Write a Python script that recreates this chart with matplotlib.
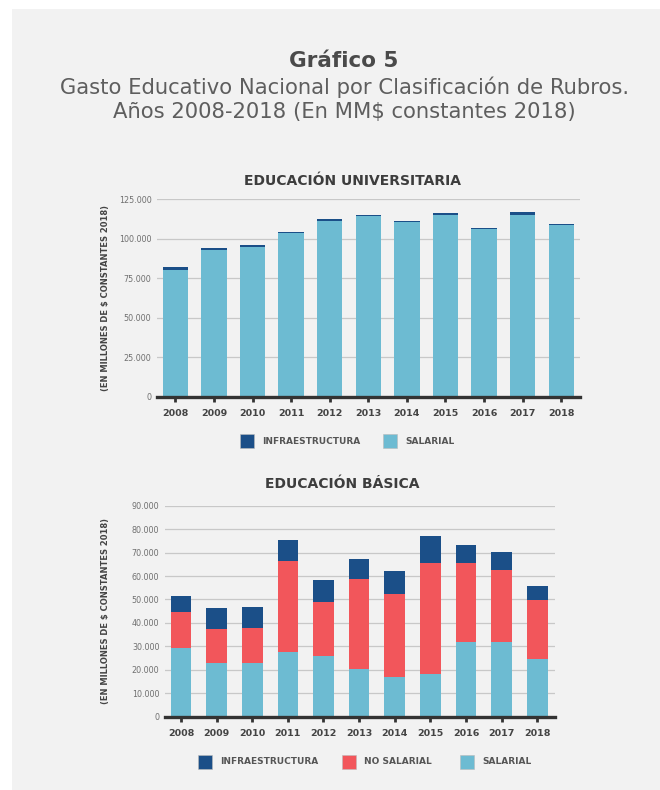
import matplotlib
matplotlib.use("Agg")
import matplotlib.pyplot as plt
from matplotlib.ticker import FuncFormatter
from matplotlib.patches import Rectangle
import numpy as np

# ---------------- data ----------------
years = ["2008", "2009", "2010", "2011", "2012", "2013", "2014", "2015", "2016", "2017", "2018"]

uni_salarial = [80300, 93100, 94600, 103500, 111500, 114300, 110500, 115300, 105900, 115100, 108600]
uni_infra = [1700, 1300, 1500, 800, 1300, 800, 600, 900, 800, 2100, 600]

bas_salarial = [29300, 22700, 22700, 27400, 25700, 20300, 16800, 18300, 31800, 31700, 24500]
bas_nosalarial = [15400, 14500, 15000, 38900, 23100, 38400, 35700, 47100, 33900, 30700, 25400]
bas_infra = [6850, 9100, 8950, 8930, 9520, 8670, 9530, 11660, 7670, 7680, 5700]

uni_yticks = [0, 25000, 50000, 75000, 100000, 125000]
bas_yticks = [0, 10000, 20000, 30000, 40000, 50000, 60000, 70000, 80000, 90000]

# ---------------- style ----------------
C_SAL = "#6dbbd2"
C_NOSAL = "#f2565b"
C_INFRA = "#1b4f88"
BG = "#f2f2f2"
DARK = "#444444"
W, H = 660, 790

fig = plt.figure(figsize=(W / 100, H / 100), dpi=100)
fig.patch.set_facecolor("white")


def fx(x):
    return x / W


def fy(y):
    return 1 - y / H


# gray panel
fig.patches.append(Rectangle((fx(12), 0), 1 - fx(12), fy(9), transform=fig.transFigure,
                             facecolor=BG, edgecolor="none", zorder=-10))

# header
fig.text(fx(344), fy(61), "Gráfico 5", ha="center", va="center", fontsize=15.5,
         fontweight="bold", color="#4a4a4a", family="DejaVu Sans")
fig.text(fx(344), fy(87), "Gasto Educativo Nacional por Clasificación de Rubros.",
         ha="center", va="center", fontsize=15.2, color="#5e5e5e", family="DejaVu Sans")
fig.text(fx(344), fy(112), "Años 2008-2018 (En MM$ constantes 2018)",
         ha="center", va="center", fontsize=15.2, color="#5e5e5e", family="DejaVu Sans")

fmt = FuncFormatter(lambda v, p: f"{v:,.0f}".replace(",", "."))


def style_axes(ax, yticks, ymax):
    ax.set_facecolor(BG)
    ax.set_ylim(0, ymax)
    ax.set_yticks(yticks)
    ax.yaxis.set_major_formatter(fmt)
    ax.grid(axis="y", color="#c8c8c8", linewidth=0.9, zorder=0)
    ax.set_axisbelow(True)
    for s in ["top", "right", "left"]:
        ax.spines[s].set_visible(False)
    ax.spines["bottom"].set_color("#333333")
    ax.spines["bottom"].set_linewidth(2.4)
    ax.tick_params(axis="y", length=0, labelsize=5.8, labelcolor="#707070", pad=4)
    ax.tick_params(axis="x", direction="inout", length=7, width=2, color="#333333",
                   labelsize=6.8, labelcolor=DARK, pad=5)
    ax.set_ylabel("(EN MILLONES DE $ CONSTANTES 2018)", fontsize=6, fontweight="bold",
                  color=DARK)


x = np.arange(len(years))

# ---------------- top chart ----------------
ax1 = fig.add_axes([fx(157), 1 - 396.7 / H, fx(580) - fx(157), (396.7 - 199.3) / H])
ax1.bar(x, uni_salarial, width=0.66, color=C_SAL, zorder=2)
ax1.bar(x, uni_infra, width=0.66, bottom=uni_salarial, color=C_INFRA, zorder=2)
ax1.set_xlim(-0.475, 10.485)
ax1.set_xticks(x)
ax1.set_xticklabels(years)
style_axes(ax1, uni_yticks, 125000)
ax1.yaxis.set_label_coords((110 - 157) / (580 - 157), 0.5)
for lab in ax1.get_xticklabels():
    lab.set_fontweight("bold")

fig.text(fx(352), fy(181), "EDUCACIÓN UNIVERSITARIA", ha="center", va="center",
         fontsize=10, fontweight="bold", color="#3d3d3d")

# ---------------- bottom chart ----------------
ax2 = fig.add_axes([fx(165), 1 - 716.7 / H, fx(555) - fx(165), (716.7 - 505.7) / H])
ax2.bar(x, bas_salarial, width=0.58, color=C_SAL, zorder=2)
b2 = np.array(bas_salarial)
ax2.bar(x, bas_nosalarial, width=0.58, bottom=b2, color=C_NOSAL, zorder=2)
b3 = b2 + np.array(bas_nosalarial)
ax2.bar(x, bas_infra, width=0.58, bottom=b3, color=C_INFRA, zorder=2)
ax2.set_xlim(-0.45, 10.5)
ax2.set_xticks(x)
ax2.set_xticklabels(years)
style_axes(ax2, bas_yticks, 90000)
ax2.yaxis.set_label_coords((110 - 165) / (555 - 165), 0.5)
for lab in ax2.get_xticklabels():
    lab.set_fontweight("bold")

fig.text(fx(342), fy(484), "EDUCACIÓN BÁSICA", ha="center", va="center",
         fontsize=10, fontweight="bold", color="#3d3d3d")


# ---------------- legends ----------------
def legend_item(xs, yc, color, label):
    s = 14
    fig.patches.append(Rectangle((fx(xs), fy(yc + s / 2)), s / W, s / H,
                                 transform=fig.transFigure, facecolor=color,
                                 edgecolor="#bbbbbb", linewidth=0.4))
    fig.text(fx(xs + s + 8), fy(yc), label, ha="left", va="center", fontsize=6.5,
             fontweight="bold", color="#555555")


legend_item(240, 441, C_INFRA, "INFRAESTRUCTURA")
legend_item(383, 441, C_SAL, "SALARIAL")

legend_item(198, 762, C_INFRA, "INFRAESTRUCTURA")
legend_item(342, 762, C_NOSAL, "NO SALARIAL")
legend_item(460, 762, C_SAL, "SALARIAL")

fig.savefig("out.png", dpi=100, facecolor=fig.get_facecolor())
